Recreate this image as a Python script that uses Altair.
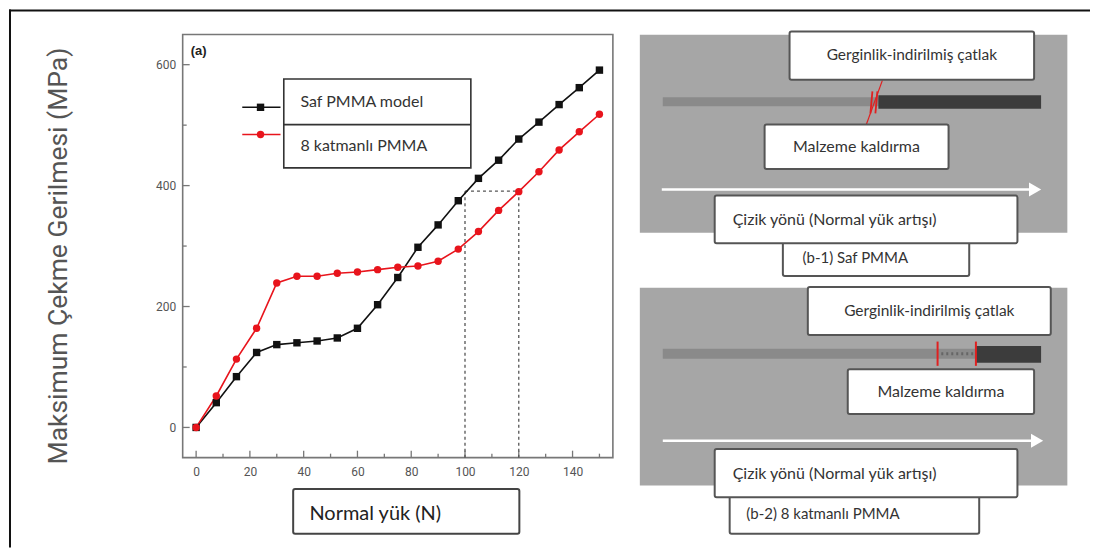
import altair as alt
import pandas as pd

# ---------------- data ----------------
load = [0, 7.5, 15, 22.5, 30, 37.5, 45, 52.5, 60, 67.5, 75, 82.5, 90, 97.5,
        105, 112.5, 120, 127.5, 135, 142.5, 150]
saf_pmma = [0, 41, 84, 124, 137, 140, 143, 148, 164, 203, 248, 298, 335, 375,
            412, 442, 477, 505, 534, 562, 591]
katman_pmma = [0, 52, 113, 164, 239, 250, 250, 255, 257, 261, 265, 267, 275, 295,
               324, 359, 390, 423, 459, 489, 518]
series_names = ["Saf PMMA model", "8 katmanlı PMMA"]
series_colors = ["#111111", "#e8141c"]
series_shapes = ["square", "circle"]

x_ticks_major = [0, 20, 40, 60, 80, 100, 120, 140]
x_ticks_minor = [10, 30, 50, 70, 90, 110, 130, 150]
y_ticks_major = [0, 200, 400, 600]
y_ticks_minor = [100, 300, 500]
x_domain = [-5, 155]
y_domain = [-50, 650]
ref_loads = [100, 120]
ref_stress = 391

y_title = "Maksimum Çekme Gerilmesi (MPa)"
x_title = "Normal yük (N)"
crack_text = "Gerginlik-indirilmiş çatlak"
removal_text = "Malzeme kaldırma"
direction_text = "Çizik yönü (Normal yük artışı)"
panel_titles = ["(b-1) Saf PMMA", "(b-2) 8 katmanlı PMMA"]

# ---------------- tables ----------------
series_df = pd.DataFrame({
    "load": load * 2,
    "stress": saf_pmma + katman_pmma,
    "series": [series_names[0]] * len(load) + [series_names[1]] * len(load),
})
frame_df = pd.DataFrame({"x0": [x_domain[0]], "x1": [x_domain[1]],
                         "y0": [y_domain[0]], "y1": [y_domain[1]]})
px_per_y = 424 / (y_domain[1] - y_domain[0])
px_per_x = 431 / (x_domain[1] - x_domain[0])
xt_rows = [{"x": v, "y0": y_domain[0], "y1": y_domain[0] + 7 / px_per_y} for v in x_ticks_major] + \
          [{"x": v, "y0": y_domain[0], "y1": y_domain[0] + 4 / px_per_y} for v in x_ticks_minor]
yt_rows = [{"y": v, "x0": x_domain[0], "x1": x_domain[0] + 7 / px_per_x} for v in y_ticks_major] + \
          [{"y": v, "x0": x_domain[0], "x1": x_domain[0] + 4 / px_per_x} for v in y_ticks_minor]
xt_df = pd.DataFrame(xt_rows)
yt_df = pd.DataFrame(yt_rows)
ref_df = pd.DataFrame([
    {"x0": ref_loads[0], "x1": ref_loads[0], "y0": y_domain[0], "y1": ref_stress},
    {"x0": ref_loads[1], "x1": ref_loads[1], "y0": y_domain[0], "y1": ref_stress},
    {"x0": ref_loads[0], "x1": ref_loads[1], "y0": ref_stress, "y1": ref_stress},
])

XS = alt.Scale(domain=x_domain, range=[174, 605], nice=False, zero=False)
YS = alt.Scale(domain=y_domain, range=[449, 25], nice=False, zero=False)
XA = alt.Axis(values=x_ticks_major, offset=-90, labelPadding=9, ticks=False, tickSize=0,
              domain=False, grid=False, title=None, labelFontSize=12, labelColor="#555",
              labelFont="Roboto", format="d")
YA = alt.Axis(values=y_ticks_major, offset=-174, labelPadding=7, ticks=False, tickSize=0,
              domain=False, grid=False, title=None, labelFontSize=12, labelColor="#555",
              labelFont="Roboto", format="d")

def X(f):
    return alt.X(f, type="quantitative", scale=XS, axis=XA)

def Y(f):
    return alt.Y(f, type="quantitative", scale=YS, axis=YA)

frame = alt.Chart(frame_df).mark_rect(fill="white", stroke="#777", strokeWidth=1.6).encode(
    x=X("x0"), x2="x1", y=Y("y0"), y2="y1")
xticks = alt.Chart(xt_df).mark_rule(color="#777", strokeWidth=1.3).encode(
    x=X("x"), y=Y("y0"), y2="y1")
yticks = alt.Chart(yt_df).mark_rule(color="#777", strokeWidth=1.3).encode(
    y=Y("y"), x=X("x0"), x2="x1")
refs = alt.Chart(ref_df).mark_rule(color="#555", strokeWidth=1.3, strokeDash=[3, 3]).encode(
    x=X("x0"), x2="x1", y=Y("y0"), y2="y1")
color_enc = alt.Color("series:N", scale=alt.Scale(domain=series_names, range=series_colors), legend=None)
lines = alt.Chart(series_df).mark_line(strokeWidth=1.6).encode(
    x=X("load"), y=Y("stress"), color=color_enc, detail="series:N")
points = alt.Chart(series_df).mark_point(filled=True, size=55, opacity=1).encode(
    x=X("load"), y=Y("stress"), color=color_enc,
    shape=alt.Shape("series:N", scale=alt.Scale(domain=series_names, range=series_shapes), legend=None))

# ---------------- annotation helpers (pixel layout) ----------------
ONE = alt.Data(values=[{"k": 1}])

def box(x1, y1, x2, y2, fill="white", stroke="#555", sw=2.0, r=2):
    kw = dict(fill=fill, cornerRadius=r, opacity=1)
    if stroke:
        kw.update(stroke=stroke, strokeWidth=sw)
    else:
        kw.update(strokeWidth=0)
    return alt.Chart(ONE).mark_rect(**kw).encode(
        x=alt.value(x1), x2=alt.value(x2), y=alt.value(y1), y2=alt.value(y2))

def seg(x1, y1, x2, y2, color, sw, dash=None):
    kw = dict(color=color, strokeWidth=sw)
    if dash:
        kw["strokeDash"] = dash
    return alt.Chart(ONE).mark_rule(**kw).encode(
        x=alt.value(x1), x2=alt.value(x2), y=alt.value(y1), y2=alt.value(y2))

def label(x, y, text, size=16, align="left", font="Lato", color="#333", weight="normal", angle=0):
    kw = dict(text=text, align=align, baseline="middle", fontSize=size, font=font,
              color=color, fontWeight=weight)
    if angle:
        kw["angle"] = angle
    return alt.Chart(ONE).mark_text(**kw).encode(x=alt.value(x), y=alt.value(y))

def marker(x, y, shape, color, size):
    return alt.Chart(ONE).mark_point(shape=shape, filled=True, color=color, size=size,
                                     opacity=1, strokeWidth=0).encode(
        x=alt.value(x), y=alt.value(y))

RED = "#e02020"
ann = []
# outer border (top and left)
ann.append(seg(0, 1, 1083, 1, "#111", 2))
ann.append(seg(1, 0, 1, 539, "#111", 2))
# y title
ann.append(label(50, 247, y_title, size=26.5, align="center", font="Roboto", color="#555", angle=270))
# (a)
ann.append(label(182, 42, "(a)", size=13, font="Arial", color="#222", weight="bold"))
# x title box
ann.append(box(284.7, 480.3, 511.3, 525.3, stroke="#444", sw=2))
ann.append(label(301, 505, x_title, size=20, color="#222"))

legend = [
    box(275.3, 69.7, 462.7, 158.7, stroke="#333", sw=1.6, r=0),
    seg(275.3, 115.3, 462.7, 115.3, "#333", 1.6),
    seg(233.7, 98, 272, 98, series_colors[0], 1.6),
    marker(252, 98, "square", series_colors[0], 55),
    seg(233.7, 125.3, 272, 125.3, series_colors[1], 1.6),
    marker(252, 125.3, "circle", series_colors[1], 55),
    label(292, 93, series_names[0], size=16),
    label(292, 137, series_names[1], size=16),
]

# panel 1
p1 = [
    box(632, 25.3, 1060.3, 223.7, fill="#a6a6a6", stroke=None, r=0),
    box(655, 88, 872, 97, fill="#8a8a8a", stroke=None, r=0),
    box(871, 86, 1034, 99.5, fill="#3c3c3c", stroke=None, r=0),
    seg(875, 71, 859, 115, RED, 1.2),
    seg(865, 82, 863, 104, RED, 1.8),
    seg(870, 82, 868, 104, RED, 1.8),
    box(782, 22, 1027, 70.3),
    label(904.5, 46, crack_text, size=15.5, align="center"),
    box(757, 115.3, 941.3, 159.7),
    label(849, 137.5, removal_text, size=16, align="center"),
    seg(654, 180.3, 1026, 180.3, "white", 2.5),
    marker(1028, 180.3, "triangle-right", "white", 200),
    box(775.3, 230.3, 962, 267),
    label(795, 249, panel_titles[0], size=15),
    box(707, 186.3, 1010.3, 234.3),
    label(725, 211, direction_text, size=16),
]

# panel 2
p2 = [
    box(632, 278.7, 1060.3, 477, fill="#a6a6a6", stroke=None, r=0),
    box(655, 340, 969, 350, fill="#8a8a8a", stroke=None, r=0),
    box(968, 337, 1034, 354, fill="#3c3c3c", stroke=None, r=0),
    seg(934, 345, 966, 345, "#666", 3, dash=[2, 3]),
    seg(930.3, 332.7, 930.3, 357, RED, 2),
    seg(968.7, 332.7, 968.7, 357, RED, 2),
    box(800.3, 278, 1043.7, 326),
    label(922, 302, crack_text, size=15.5, align="center"),
    box(840.3, 360.3, 1027, 405.3),
    label(933.7, 383, removal_text, size=16, align="center"),
    seg(655, 432, 1028, 432, "white", 2.5),
    marker(1030, 432, "triangle-right", "white", 200),
    box(722, 485.3, 972, 525.3),
    label(738.7, 505, panel_titles[1], size=15),
    box(707, 440.3, 1010.3, 488.7),
    label(725, 465, direction_text, size=16),
]

chart = alt.layer(
    frame, xticks, yticks, refs, lines, points, *legend, *ann, *p1, *p2
).properties(width=1083, height=539, padding=0, background="white").configure_view(stroke=None)

chart.save("out.html", embed_options={"renderer": "svg", "actions": False})
